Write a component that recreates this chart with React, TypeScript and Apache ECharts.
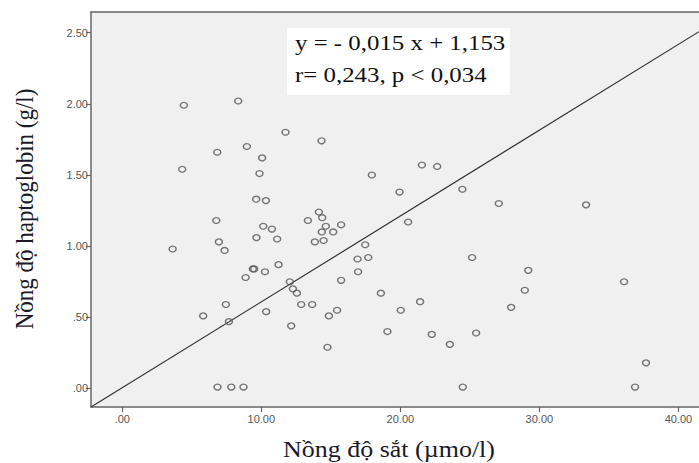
import React, { useEffect, useRef } from "react";
import * as echarts from "echarts";

const ironX = [
  4.43, 8.34, 4.31, 6.83, 8.96, 10.06, 11.74, 14.33, 9.87, 9.63,
  10.33, 6.76, 10.14, 10.76, 9.65, 11.14, 6.95, 7.36, 9.39, 9.49,
  10.26, 11.24, 8.87, 12.05, 12.27, 12.56, 7.45, 13.35, 14.14, 14.38,
  14.64, 15.17, 15.74, 14.35, 13.85, 14.48, 15.74, 16.92, 16.96, 12.87,
  13.66, 5.82, 7.67, 10.35, 12.15, 14.86, 15.45, 14.76, 6.85, 7.84,
  8.72, 18.6, 21.55, 22.65, 17.95, 19.94, 24.46, 27.08, 20.56, 17.47,
  17.69, 25.16, 29.2, 36.09, 28.95, 20.03, 21.42, 27.97, 19.07, 22.26,
  25.45, 23.56, 24.49, 36.88, 37.67, 33.36, 3.62,
];
const haptoY = [
  1.99, 2.02, 1.54, 1.66, 1.7, 1.62, 1.8, 1.74, 1.51, 1.33,
  1.32, 1.18, 1.14, 1.12, 1.06, 1.05, 1.03, 0.97, 0.84, 0.84,
  0.82, 0.87, 0.78, 0.75, 0.7, 0.67, 0.59, 1.18, 1.24, 1.2,
  1.14, 1.1, 1.15, 1.1, 1.03, 1.04, 0.76, 0.91, 0.82, 0.59,
  0.59, 0.51, 0.47, 0.54, 0.44, 0.51, 0.55, 0.29, 0.01, 0.01,
  0.01, 0.67, 1.57, 1.56, 1.5, 1.38, 1.4, 1.3, 1.17, 1.01,
  0.92, 0.92, 0.83, 0.75, 0.69, 0.55, 0.61, 0.57, 0.4, 0.38,
  0.39, 0.31, 0.01, 0.01, 0.18, 1.29, 0.98,
];
const fitLineX = [-2.25, 41.48];
const fitLineY = [-0.13, 2.507];
const xTicks = [0, 10, 20, 30, 40];
const yTicks = [0, 0.5, 1, 1.5, 2, 2.5];
const equationLines = ["y = - 0,015 x + 1,153", "r= 0,243, p < 0,034"];
const xTitle = "Nồng độ sắt (µmo/l)";
const yTitle = "Nồng độ haptoglobin (g/l)";

const X_MIN = -2.25;
const X_MAX = 41.48;
const Y_MIN = -0.13;
const Y_MAX = 2.645;

const fmt = (v: number) => {
  const s = v.toFixed(2);
  return s.startsWith("0") ? s.slice(1) : s;
};

export default function App() {
  const ref = useRef<HTMLDivElement>(null);
  useEffect(() => {
    if (!ref.current) return;
    const chart = echarts.init(ref.current, null, { renderer: "svg" });
    const axisLine = {
      show: true,
      onZero: false,
      lineStyle: { color: "#666", width: 1.5 },
    };
    const tickLabel = {
      fontFamily: "Liberation Sans, Arial, sans-serif",
      fontSize: 11,
      color: "#555",
    };
    chart.setOption({
      animation: false,
      backgroundColor: "#ffffff",
      grid: {
        left: 91,
        top: 12,
        right: 0,
        bottom: 56,
        show: true,
        backgroundColor: "#f0f0f0",
        borderWidth: 0,
      },
      xAxis: [
        {
          type: "value",
          min: X_MIN,
          max: X_MAX,
          splitLine: { show: false },
          axisLine,
          axisTick: {
            show: true,
            length: 5,
            customValues: xTicks,
            lineStyle: { color: "#666", width: 1.2 },
          },
          axisLabel: {
            ...tickLabel,
            margin: 6,
            customValues: xTicks,
            formatter: (v: number) => fmt(v),
          },
        },
        {
          type: "value",
          position: "top",
          min: X_MIN,
          max: X_MAX,
          splitLine: { show: false },
          axisLine,
          axisTick: { show: false },
          axisLabel: { show: false },
        },
      ],
      yAxis: {
        type: "value",
        min: Y_MIN,
        max: Y_MAX,
        splitLine: { show: false },
        axisLine,
        axisTick: {
          show: true,
          length: 5,
          customValues: yTicks,
          lineStyle: { color: "#666", width: 1.2 },
        },
        axisLabel: {
          ...tickLabel,
          margin: 3,
          customValues: yTicks,
          formatter: (v: number) => fmt(v),
        },
      },
      series: [
        {
          type: "line",
          xAxisIndex: 0,
          data: fitLineX.map((x, i) => [x, fitLineY[i]]),
          showSymbol: false,
          symbol: "none",
          lineStyle: { color: "#333", width: 1.2 },
          z: 2,
        },
        {
          type: "scatter",
          xAxisIndex: 0,
          data: ironX.map((x, i) => [x, haptoY[i]]),
          symbol: "circle",
          symbolSize: [7, 5.8],
          itemStyle: {
            color: "rgba(0,0,0,0)",
            borderColor: "#555",
            borderWidth: 1.4,
          },
          z: 3,
        },
      ],
      graphic: [
        {
          type: "rect",
          shape: { x: 287, y: 28, width: 223, height: 67 },
          style: { fill: "#ffffff" },
          z: 10,
        },
        ...equationLines.map((t, i) => ({
          type: "text",
          x: 295,
          y: 43 + i * 32,
          scaleX: 1.13,
          z: 11,
          style: {
            text: t,
            font: "22px 'Liberation Serif', 'Times New Roman', serif",
            fill: "#111",
            textAlign: "left",
            textVerticalAlign: "middle",
          },
        })),
        {
          type: "text",
          x: 389,
          y: 449,
          scaleX: 1.13,
          z: 11,
          style: {
            text: xTitle,
            font: "23px 'Liberation Serif', 'Times New Roman', serif",
            fill: "#1a1a2a",
            textAlign: "center",
            textVerticalAlign: "middle",
          },
        },
        {
          type: "text",
          x: 24,
          y: 209,
          rotation: Math.PI / 2,
          scaleY: 1.13,
          z: 11,
          style: {
            text: yTitle,
            font: "23px 'Liberation Serif', 'Times New Roman', serif",
            fill: "#1a1a2a",
            textAlign: "center",
            textVerticalAlign: "middle",
          },
        },
      ],
    });
    return () => chart.dispose();
  }, []);
  return (
    <div
      ref={ref}
      style={{ position: "fixed", left: 0, top: 0, width: 699, height: 463 }}
    />
  );
}
